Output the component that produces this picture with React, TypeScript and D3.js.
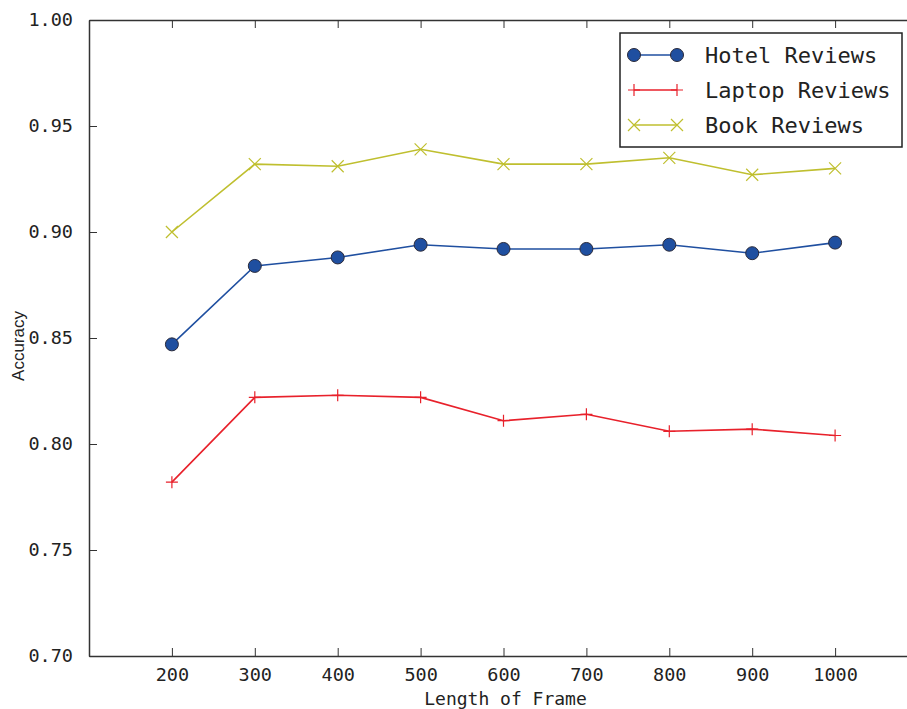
import { useEffect, useRef } from 'react'
import * as d3 from 'd3'

const W = 907
const H = 709
const MARGIN = { top: 20, right: -11, bottom: 53, left: 89 }

const frameLengths = [200, 300, 400, 500, 600, 700, 800, 900, 1000]
const hotel = [0.847, 0.884, 0.888, 0.894, 0.892, 0.892, 0.894, 0.890, 0.895]
const laptop = [0.782, 0.822, 0.823, 0.822, 0.811, 0.814, 0.806, 0.807, 0.804]
const book = [0.900, 0.932, 0.931, 0.939, 0.932, 0.932, 0.935, 0.927, 0.930]
const seriesNames = ['Hotel Reviews', 'Laptop Reviews', 'Book Reviews']
const yTicks = [0.70, 0.75, 0.80, 0.85, 0.90, 0.95, 1.00]

const COLORS = ['#1f4fa0', '#e8212b', '#bfbf2f']
const MONO = '"DejaVu Sans Mono", monospace'

export default function App() {
  const svgRef = useRef<SVGSVGElement | null>(null)

  useEffect(() => {
    const el = svgRef.current
    if (!el) return
    d3.select(el).selectAll('*').remove()

    const w = W - MARGIN.left - MARGIN.right
    const h = H - MARGIN.top - MARGIN.bottom

    const svg = d3.select(el)
      .append('g')
      .attr('transform', `translate(${MARGIN.left},${MARGIN.top})`)

    const x = d3.scaleLinear().domain([100, 1100]).range([0, w])
    const y = d3.scaleLinear().domain([0.7, 1.0]).range([h, 0])

    const styleAxis = (g: any) => {
      g.select('.domain').attr('stroke', '#333').attr('stroke-width', 1.5)
      g.selectAll('.tick line').attr('stroke', '#333').attr('stroke-width', 1)
      g.selectAll('text').attr('fill', '#222').attr('font-size', '18.5px').attr('font-family', MONO)
    }

    // bottom axis, ticks pointing in
    svg.append('g')
      .attr('transform', `translate(0,${h})`)
      .call(d3.axisBottom(x).tickValues(frameLengths).tickSizeInner(-8).tickSizeOuter(0).tickPadding(12).tickFormat(d3.format('d')))
      .call(styleAxis)

    // top spine with ticks
    svg.append('g')
      .call(d3.axisTop(x).tickValues(frameLengths).tickSizeInner(-8).tickSizeOuter(0).tickFormat(() => ''))
      .call(styleAxis)

    // left axis
    svg.append('g')
      .call(d3.axisLeft(y).tickValues(yTicks).tickSizeInner(-8).tickSizeOuter(0).tickPadding(16).tickFormat(d3.format('.2f')))
      .call(styleAxis)

    const all = [hotel, laptop, book]
    const line = d3.line<number>()
      .x((_, i) => x(frameLengths[i]))
      .y(d => y(d))

    all.forEach((vals, si) => {
      svg.append('path')
        .datum(vals)
        .attr('fill', 'none')
        .attr('stroke', COLORS[si])
        .attr('stroke-width', 1.6)
        .attr('d', line)
    })

    const drawMarker = (g: any, si: number, cx: number, cy: number) => {
      if (si === 0) {
        g.append('circle').attr('cx', cx).attr('cy', cy).attr('r', 6.5)
          .attr('fill', COLORS[0]).attr('stroke', '#2a2a3a').attr('stroke-width', 1)
      } else if (si === 1) {
        g.append('path').attr('d', `M${cx - 6},${cy}H${cx + 6}M${cx},${cy - 6}V${cy + 6}`)
          .attr('stroke', COLORS[1]).attr('stroke-width', 1.2).attr('fill', 'none')
      } else {
        g.append('path').attr('d', `M${cx - 6},${cy - 6}L${cx + 6},${cy + 6}M${cx - 6},${cy + 6}L${cx + 6},${cy - 6}`)
          .attr('stroke', COLORS[2]).attr('stroke-width', 1.2).attr('fill', 'none')
      }
    }

    all.forEach((vals, si) => {
      vals.forEach((v, i) => drawMarker(svg, si, x(frameLengths[i]), y(v)))
    })

    // axis labels
    svg.append('text')
      .attr('x', x(600) + 2)
      .attr('y', h + 49)
      .attr('text-anchor', 'middle')
      .attr('fill', '#222')
      .attr('font-size', '18px')
      .attr('font-family', MONO)
      .text('Length of Frame')

    svg.append('text')
      .attr('transform', 'rotate(-90)')
      .attr('x', -(y(0.85) + 8))
      .attr('y', -MARGIN.left + 24)
      .attr('text-anchor', 'middle')
      .attr('fill', '#222')
      .attr('font-size', '17px')
      .attr('font-family', '"Liberation Sans", Arial, sans-serif')
      .text('Accuracy')

    // legend
    const lg = d3.select(el).append('g')
    lg.append('rect')
      .attr('x', 620).attr('y', 33).attr('width', 282).attr('height', 114)
      .attr('fill', '#fff').attr('stroke', '#222').attr('stroke-width', 1.5)
    seriesNames.forEach((name, si) => {
      const ly = 55 + si * 35
      lg.append('line')
        .attr('x1', 634).attr('x2', 677).attr('y1', ly).attr('y2', ly)
        .attr('stroke', COLORS[si]).attr('stroke-width', 1.6)
      drawMarker(lg, si, 634, ly)
      drawMarker(lg, si, 677, ly)
      lg.append('text')
        .attr('x', 705).attr('y', ly)
        .attr('dy', '0.36em')
        .attr('fill', '#222')
        .attr('font-size', '22px')
        .attr('font-family', MONO)
        .text(name)
    })
  }, [])

  return (
    <svg
      ref={svgRef}
      width={W}
      height={H}
      style={{ position: 'absolute', left: 0, top: 0, display: 'block', background: '#fff' }}
    />
  )
}
